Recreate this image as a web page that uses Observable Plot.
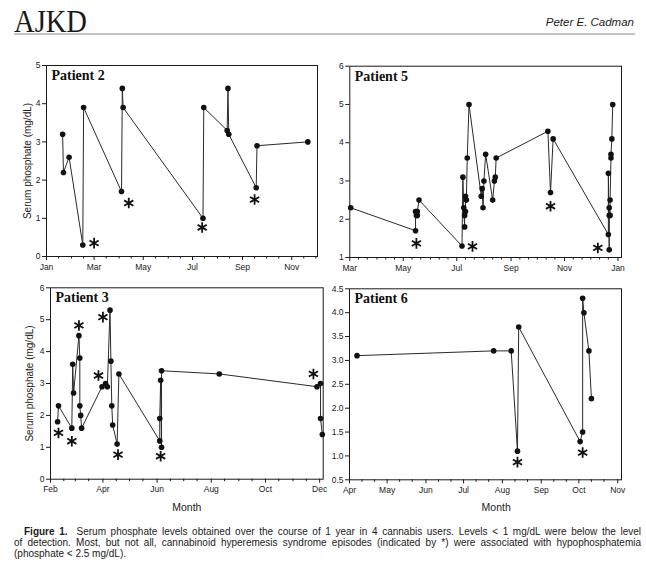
<!DOCTYPE html>
<html><head><meta charset="utf-8">
<script src="https://cdn.jsdelivr.net/npm/d3@7"></script>
<script src="https://cdn.jsdelivr.net/npm/@observablehq/plot@0.6"></script>
<style>
html,body{margin:0;padding:0;background:#fff;}
#page{position:relative;width:646px;height:569px;overflow:hidden;background:#fff;font-family:"Liberation Sans",Arial,sans-serif;color:#1a1a1a;}
#page svg{overflow:visible;}
.cap{position:absolute;font-size:10px;line-height:11.2px;white-space:nowrap;}
.just{text-align:justify;text-align-last:justify;}
</style></head>
<body><div id="page">
<svg width="646" height="40" style="position:absolute;left:0;top:0">
  <text x="14" y="31.7" font-family="Liberation Serif, Times New Roman, serif" font-size="32" textLength="73" lengthAdjust="spacingAndGlyphs" fill="#1a1a1a">AJKD</text>
  <text x="634" y="26" text-anchor="end" font-family="Liberation Sans, Arial, sans-serif" font-style="italic" font-size="11.5" fill="#1a1a1a">Peter E. Cadman</text>
  <line x1="14" x2="635" y1="34" y2="34" stroke="#888" stroke-width="1.2"/>
</svg>
<div class="cap just" style="left:24px;top:526px;width:617px;"><b>Figure 1.</b><span style="display:inline-block;width:9px"></span>Serum phosphate levels obtained over the course of 1 year in 4 cannabis users. Levels &lt; 1 mg/dL were below the level</div>
<div class="cap just" style="left:14px;top:537.2px;width:627px;">of detection. Most, but not all, cannabinoid hyperemesis syndrome episodes (indicated by *) were associated with hypophosphatemia</div>
<div class="cap" style="left:14px;top:548.4px;">(phosphate &lt; 2.5 mg/dL).</div>
</div>
<script>
// ---- Patient 2 ----
const p2Dates = ["2011-01-21","2011-01-22","2011-01-29","2011-02-15","2011-02-16","2011-04-04","2011-04-05","2011-04-06","2011-07-14","2011-07-15","2011-08-13","2011-08-14","2011-08-15","2011-09-18","2011-09-19","2011-11-21"];
const p2Values = [3.2,2.2,2.6,0.3,3.9,1.7,4.4,3.9,1.0,3.9,3.3,4.4,3.2,1.8,2.9,3.0];
const p2StarDates = ["2011-03-01","2011-04-13","2011-07-13","2011-09-16"];
const p2StarValues = [0.35,1.4,0.76,1.49];
const p2Ticks = ["2011-01-01","2011-03-01","2011-05-01","2011-07-01","2011-09-01","2011-11-01"];
const p2YTicks = [0,1,2,3,4,5];

// ---- Patient 5 ----
const p5Dates = ["2011-03-02","2011-05-15","2011-05-15","2011-05-16","2011-05-16","2011-05-17","2011-05-17","2011-05-19","2011-07-07","2011-07-08","2011-07-09","2011-07-10","2011-07-10","2011-07-11","2011-07-11","2011-07-12","2011-07-13","2011-07-15","2011-07-29","2011-07-30","2011-07-31","2011-08-01","2011-08-03","2011-08-11","2011-08-13","2011-08-14","2011-08-15","2011-10-13","2011-10-16","2011-10-19","2011-12-21","2011-12-21","2011-12-22","2011-12-22","2011-12-22","2011-12-23","2011-12-23","2011-12-24","2011-12-24","2011-12-25","2011-12-26"];
const p5Values = [2.3,1.7,2.2,2.1,2.2,2.1,2.2,2.5,1.3,3.1,2.3,1.8,2.1,2.2,2.6,2.5,3.6,5.0,2.6,2.8,2.3,3.0,3.7,2.5,3.0,3.1,3.6,4.3,2.7,4.1,1.6,3.2,1.2,2.3,2.1,2.1,2.5,3.6,3.7,4.1,5.0];
const p5StarDates = ["2011-05-16","2011-07-19","2011-10-16","2011-12-09"];
const p5StarValues = [1.37,1.29,2.34,1.25];
const p5Ticks = ["2011-03-01","2011-05-01","2011-07-01","2011-09-01","2011-11-01","2012-01-01"];
const p5YTicks = [1,2,3,4,5,6];

// ---- Patient 3 ----
const p3Dates = ["2011-02-09","2011-02-10","2011-02-25","2011-02-26","2011-02-27","2011-03-05","2011-03-06","2011-03-06","2011-03-07","2011-03-08","2011-03-31","2011-04-04","2011-04-06","2011-04-09","2011-04-10","2011-04-11","2011-04-12","2011-04-17","2011-04-19","2011-06-04","2011-06-04","2011-06-05","2011-06-06","2011-06-06","2011-08-10","2011-11-28","2011-12-02","2011-12-02","2011-12-04"];
const p3Values = [1.8,2.3,1.6,3.6,2.7,4.5,3.8,2.3,2.0,1.6,2.9,3.0,2.9,5.3,3.7,2.3,1.7,1.1,3.3,1.2,1.9,3.1,1.0,3.4,3.3,2.9,3.0,1.9,1.4];
const p3StarDates = ["2011-02-10","2011-02-25","2011-03-05","2011-03-27","2011-04-01","2011-04-18","2011-06-05","2011-11-24"];
const p3StarValues = [1.45,1.19,4.82,3.25,5.08,0.77,0.72,3.30];
const p3Ticks = ["2011-02-01","2011-04-01","2011-06-01","2011-08-01","2011-10-01","2011-12-01"];
const p3YTicks = [0,1,2,3,4,5,6];

// ---- Patient 6 ----
const p6Dates = ["2011-04-07","2011-07-25","2011-08-08","2011-08-13","2011-08-14","2011-10-02","2011-10-04","2011-10-04","2011-10-05","2011-10-09","2011-10-11"];
const p6Values = [3.1,3.2,3.2,1.1,3.7,1.3,1.5,4.3,4.0,3.2,2.2];
const p6StarDates = ["2011-08-13","2011-10-04"];
const p6StarValues = [0.87,1.07];
const p6Ticks = ["2011-04-01","2011-05-01","2011-06-01","2011-07-01","2011-08-01","2011-09-01","2011-10-01","2011-11-01"];
const p6YTicks = [0.5,1.0,1.5,2.0,2.5,3.0,3.5,4.0,4.5];

const yAxisTitle = "Serum phosphate (mg/dL)";
const xAxisTitle = "Month";

const parse = d3.utcParse("%Y-%m-%d");
const page = document.getElementById("page");

function panel(o) {
  const pts = o.dates.map((d, i) => ({date: parse(d), value: o.values[i]}));
  const stars = o.starDates.map((d, i) => ({date: parse(d), value: o.starValues[i]}));
  const major = o.ticks.map(parse);
  const majorSet = new Set(major.map(d => +d));
  const x0 = parse(o.xDomain[0]), x1 = parse(o.xDomain[1]);
  const minor = d3.utcDay.range(x0, d3.utcDay.offset(x1, 1))
    .filter(d => o.minorDays.includes(d.getUTCDate()) && !majorSet.has(+d));
  const marks = [
    Plot.frame({stroke: "#1a1a1a", strokeWidth: 1}),
    Plot.axisX(minor, {tickSize: 2.5, tickFormat: () => "", label: null, stroke: "#1a1a1a"}),
    Plot.axisX(major, {tickSize: 4, tickPadding: 3, tickFormat: d3.utcFormat("%b"), label: null, fontSize: 8.5, stroke: "#1a1a1a"}),
    Plot.axisY(o.yTicks, {tickSize: 4, tickPadding: 2, tickFormat: o.yFormat, label: null, fontSize: 8.5, stroke: "#1a1a1a"}),
    Plot.line(pts, {x: "date", y: "value", stroke: "#2a2a2a", strokeWidth: 1}),
    Plot.dot(pts, {x: "date", y: "value", r: 2.8, fill: "#111", stroke: null}),
    Plot.dot(stars, {x: "date", y: "value", symbol: "asterisk", r: 5, stroke: "#111", strokeWidth: 1.8}),
    Plot.text([o.label], {frameAnchor: "top-left", text: d => d, dx: 5, dy: 14.5, lineAnchor: "bottom", textAnchor: "start",
      fontFamily: "Liberation Serif, Times New Roman, serif", fontWeight: "bold", fontSize: 14, fill: "#111"})
  ];
  if (o.yLabel) marks.push(Plot.text([o.yLabel], {frameAnchor: "left", text: d => d, dx: o.yLabelDx, rotate: -90,
    textAnchor: "middle", lineAnchor: "middle", fontSize: 10, fill: "#222"}));
  if (o.xLabel) marks.push(Plot.text([o.xLabel], {frameAnchor: "bottom", text: d => d, dx: o.xLabelDx || 0, dy: o.xLabelDy,
    textAnchor: "middle", lineAnchor: "middle", fontSize: 10.5, fill: "#222"}));
  const svg = Plot.plot({
    width: o.width, height: o.height,
    marginLeft: o.m[0], marginTop: o.m[1], marginRight: o.m[2], marginBottom: o.m[3],
    style: {fontFamily: "Liberation Sans, Arial, sans-serif", fontSize: "8.5px", color: "#1a1a1a", background: "transparent", overflow: "visible"},
    x: {type: "utc", domain: [x0, x1]},
    y: {domain: o.yDomain},
    marks
  });
  svg.style.position = "absolute";
  svg.style.left = o.left + "px";
  svg.style.top = o.top + "px";
  svg.style.maxWidth = "none";
  page.appendChild(svg);
}

panel({dates: p2Dates, values: p2Values, starDates: p2StarDates, starValues: p2StarValues,
  ticks: p2Ticks, minorDays: [1, 16], xDomain: ["2011-01-01", "2011-12-03"], yDomain: [0, 5], yTicks: p2YTicks,
  yFormat: d3.format("d"), label: "Patient 2", yLabel: yAxisTitle, yLabelDx: -19,
  left: 0, top: 50, width: 322, height: 225, m: [46, 15, 5, 19]});

panel({dates: p5Dates, values: p5Values, starDates: p5StarDates, starValues: p5StarValues,
  ticks: p5Ticks, minorDays: [1, 11, 21], xDomain: ["2011-03-01", "2012-01-05"], yDomain: [1, 6], yTicks: p5YTicks,
  yFormat: d3.format("d"), label: "Patient 5",
  left: 322, top: 50, width: 324, height: 225, m: [27.3, 15.7, 25, 18]});

panel({dates: p3Dates, values: p3Values, starDates: p3StarDates, starValues: p3StarValues,
  ticks: p3Ticks, minorDays: [1, 16], xDomain: ["2011-02-01", "2011-12-05"], yDomain: [0, 6], yTicks: p3YTicks,
  yFormat: d3.format("d"), label: "Patient 3", yLabel: yAxisTitle, yLabelDx: -21, xLabel: xAxisTitle, xLabelDy: 28,
  left: 0, top: 275, width: 326, height: 240, m: [50, 12.3, 3.3, 36.3]});

panel({dates: p6Dates, values: p6Values, starDates: p6StarDates, starValues: p6StarValues,
  ticks: p6Ticks, minorDays: [11, 21], xDomain: ["2011-04-01", "2011-11-04"], yDomain: [0.5, 4.5], yTicks: p6YTicks,
  yFormat: d3.format(".1f"), label: "Patient 6", xLabel: xAxisTitle, xLabelDx: 10.7, xLabelDy: 27.4,
  left: 326, top: 275, width: 320, height: 240, m: [23, 13.3, 25, 35.7]});
</script>
</body></html>
